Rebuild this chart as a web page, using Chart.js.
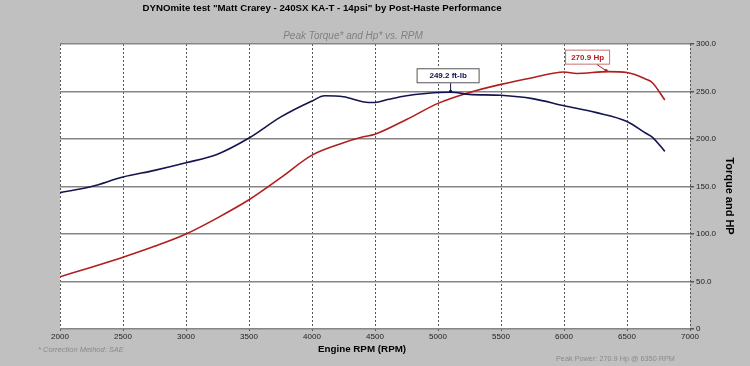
<!DOCTYPE html>
<html>
<head>
<meta charset="utf-8">
<script src="https://cdn.jsdelivr.net/npm/chart.js@4/dist/chart.umd.min.js"></script>
<style>
  html, body { margin: 0; padding: 0; background: #c0c0c0; overflow: hidden; }
  #dyno { display: block; }
</style>
</head>
<body>
<canvas id="dyno" width="750" height="366"></canvas>
<script>
// values
const torqueRpm = [2000, 2250, 2500, 2750, 3000, 3250, 3500, 3750, 4000, 4100, 4250, 4450, 4500, 4600, 4750, 5000, 5100, 5250, 5500, 5750, 6000, 6250, 6500, 6650, 6700, 6800];
const torque    = [143.5, 150, 160, 167, 175, 184, 201, 223, 240, 245.5, 244.5, 238.5, 238.5, 241.5, 245.5, 249, 249.2, 247, 246, 242.5, 235, 228, 218.5, 206, 202, 187];
const hpRpm = [2000, 2250, 2500, 2750, 3000, 3250, 3500, 3750, 4000, 4250, 4400, 4500, 4750, 5000, 5250, 5500, 5750, 6000, 6100, 6350, 6500, 6650, 6700, 6800];
const hp    = [55, 65, 75.5, 87, 100, 117, 136, 159, 183, 196, 202, 205, 220.5, 237.5, 249, 257.5, 264.5, 270.5, 269, 270.9, 270, 263, 259.5, 241];
const peakTorque = { rpm: 5100, value: 249.2, label: "249.2 ft-lb" };
const peakHp = { rpm: 6350, value: 270.9, label: "270.9 Hp" };

const FONT = "Arial, 'Liberation Sans', sans-serif";

const toPoints = (xs, ys) => xs.map((x, i) => ({ x, y: ys[i] }));

const sheetText = {
  id: "sheetText",
  afterDatasetsDraw(chart) {
    const { ctx, scales: { x, y } } = chart;
    ctx.save();

    // peak callouts
    function callout(pk, dx1, dx2, dyTop, dyBot, color, border, tipX, tipY) {
      const px = x.getPixelForValue(pk.rpm);
      const py = y.getPixelForValue(pk.value);
      const l = px + dx1, r = px + dx2, t = py + dyTop, b = py + dyBot;
      ctx.fillStyle = "#fff";
      ctx.fillRect(l, t, r - l, b - t);
      ctx.strokeStyle = border;
      ctx.lineWidth = 1;
      ctx.strokeRect(l + 0.5, t + 0.5, r - l - 1, b - t - 1);
      ctx.fillStyle = color;
      ctx.font = "bold 8px " + FONT;
      ctx.textAlign = "center";
      ctx.textBaseline = "middle";
      ctx.fillText(pk.label, (l + r) / 2, (t + b) / 2 + 0.5);
      // pointer
      ctx.strokeStyle = color;
      ctx.beginPath();
      ctx.moveTo(px + tipX, b);
      ctx.lineTo(px + tipY, py - 1);
      ctx.stroke();
      ctx.beginPath();
      ctx.arc(px + tipY, py - 1, 1.6, 0, Math.PI * 2);
      ctx.fill();
    }
    callout(peakTorque, -34, 29, -24, -9, "#10104a", "#555", 0, 0);
    callout(peakHp, -43, 2, -22, -7, "#b01e1e", "#c87070", -11, -2);

    // titles
    ctx.fillStyle = "#000";
    ctx.font = "bold 9.7px " + FONT;
    ctx.textAlign = "center";
    ctx.textBaseline = "middle";
    ctx.fillText('DYNOmite test "Matt Crarey - 240SX KA-T - 14psi" by Post-Haste Performance', 322, 8);

    ctx.fillStyle = "#808080";
    ctx.font = "italic 10px " + FONT;
    ctx.fillText("Peak Torque* and Hp* vs. RPM", 353, 36);

    ctx.fillStyle = "#000";
    ctx.font = "bold 9.8px " + FONT;
    ctx.fillText("Engine RPM (RPM)", 362, 349);

    ctx.fillStyle = "#8a8a8a";
    ctx.font = "italic 7.5px " + FONT;
    ctx.textAlign = "left";
    ctx.fillText("* Correction Method: SAE", 38, 350);
    ctx.font = "7.3px " + FONT;
    ctx.fillText("Peak Power: 270.9 Hp @ 6350 RPM", 556, 359);

    ctx.translate(729, 196);
    ctx.rotate(Math.PI / 2);
    ctx.fillStyle = "#000";
    ctx.font = "bold 11px " + FONT;
    ctx.textAlign = "center";
    ctx.fillText("Torque and HP", 0, 0);
    ctx.restore();
  }
};

const plotBg = {
  id: "plotBg",
  beforeDraw(chart) {
    const { ctx, chartArea: a } = chart;
    ctx.save();
    ctx.fillStyle = "#c0c0c0";
    ctx.fillRect(0, 0, chart.width, chart.height);
    ctx.fillStyle = "#fff";
    ctx.fillRect(a.left, a.top, a.right - a.left, a.bottom - a.top);
    ctx.restore();
  }
};

new Chart(document.getElementById("dyno"), {
  type: "line",
  data: {
    datasets: [
      {
        label: "Torque",
        data: toPoints(torqueRpm, torque),
        borderColor: "#14144f",
        borderWidth: 1.6,
        pointRadius: 0,
        cubicInterpolationMode: "monotone",
      },
      {
        label: "Hp",
        data: toPoints(hpRpm, hp),
        borderColor: "#b01e1e",
        borderWidth: 1.6,
        pointRadius: 0,
        cubicInterpolationMode: "monotone",
      },
    ],
  },
  options: {
    responsive: false,
    animation: false,
    devicePixelRatio: 1,
    layout: { padding: { left: 60, top: 44, right: 0, bottom: 0 } },
    plugins: { legend: { display: false }, tooltip: { enabled: false }, title: { display: false } },
    scales: {
      x: {
        type: "linear",
        min: 2000,
        max: 7000,
        afterFit: (s) => { s.height = 37; },
        ticks: {
          stepSize: 500,
          autoSkip: false,
          color: "#222",
          font: { family: FONT, size: 8 },
          padding: 1,
          maxRotation: 0,
          callback: (v) => String(v),
        },
        grid: { color: "#555", lineWidth: 1, tickLength: 2, tickColor: "#555" },
        border: { display: false, dash: [2, 2] },
      },
      y: {
        position: "right",
        min: 0,
        max: 300,
        afterFit: (s) => { s.width = 60; },
        ticks: {
          stepSize: 50,
          autoSkip: false,
          color: "#222",
          font: { family: FONT, size: 8 },
          padding: 2,
          callback: (v) => (v === 0 ? "0" : v.toFixed(1)),
        },
        grid: { color: "#858585", lineWidth: 1.5, tickLength: 4, tickColor: "#555" },
        border: { display: false },
      },
    },
  },
  plugins: [plotBg, sheetText],
});
</script>
</body>
</html>
